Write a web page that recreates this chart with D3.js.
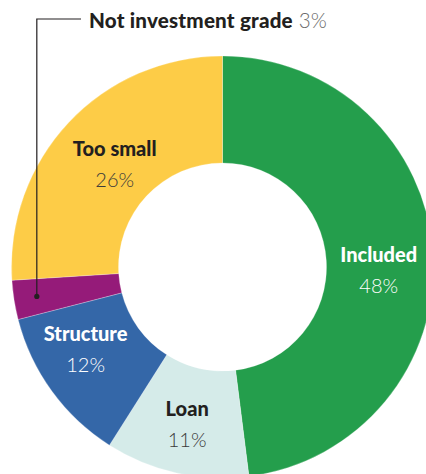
<!DOCTYPE html>
<html>
<head>
<meta charset="utf-8">
<script src="https://cdn.jsdelivr.net/npm/d3@7"></script>
<style>
  html, body { margin: 0; padding: 0; background: #ffffff; }
  svg { display: block; }
  text { font-family: "Lato", "Open Sans", sans-serif; }
</style>
</head>
<body>
<div id="chart"></div>
<script>
// Share of the portfolio by screening outcome (percent)
const categories = ["Included", "Loan", "Structure", "Not investment grade", "Too small"];
const shares = [48, 11, 12, 3, 26];
const shareLabels = ["48%", "11%", "12%", "3%", "26%"];

const sliceColors = ["#249e4c", "#d5ebe9", "#3467a8", "#951b79", "#fdcc47"];
const nameColors = ["#ffffff", "#231f20", "#ffffff", "#231f20", "#231f20"];
const pctColors = ["#ffffff", "#3a3a3a", "#ffffff", "#6b6b6b", "#3a3a3a"];

// Small nudges of each in-slice label away from the slice centroid
const labelNudge = [[-1, 5], [-1, -4.5], [-9.5, -18.5], null, [7, -3]];

const width = 426, height = 474;
const cx = 222.5, cy = 267;
const outerR = 211, innerR = 104;
const nameSize = 20, pctSize = 20;

const svg = d3.select("#chart").append("svg")
  .attr("width", width).attr("height", height);

const g = svg.append("g").attr("transform", `translate(${cx},${cy})`);

const data = categories.map((c, i) => ({ name: c, value: shares[i], label: shareLabels[i], i }));

const pie = d3.pie().value(d => d.value).sort(null);
const arcs = pie(data);

const arc = d3.arc().innerRadius(innerR).outerRadius(outerR);
const midArc = d3.arc().innerRadius((innerR + outerR) / 2).outerRadius((innerR + outerR) / 2);

g.selectAll("path.slice")
  .data(arcs)
  .join("path")
  .attr("class", "slice")
  .attr("d", arc)
  .attr("fill", d => sliceColors[d.data.i])
  .attr("stroke", "#ffffff")
  .attr("stroke-opacity", 0.5)
  .attr("stroke-width", 0.5);

// In-slice labels: bold name with the share beneath it
const inside = arcs.filter(d => labelNudge[d.data.i]);
const lbl = g.selectAll("g.lbl")
  .data(inside)
  .join("g")
  .attr("class", "lbl")
  .attr("transform", d => {
    const [x, y] = midArc.centroid(d);
    const [dx, dy] = labelNudge[d.data.i];
    return `translate(${x + dx},${y + dy})`;
  });

lbl.append("text")
  .attr("text-anchor", "middle")
  .attr("font-size", nameSize)
  .attr("font-weight", 900)
  .attr("fill", d => nameColors[d.data.i])
  .text(d => d.data.name);

lbl.append("text")
  .attr("text-anchor", "middle")
  .attr("y", 31)
  .attr("font-size", pctSize)
  .attr("font-weight", 300)
  .attr("fill", d => pctColors[d.data.i])
  .text(d => d.data.label);

// Callout for the thin slice
const thin = arcs.find(d => d.data.name === "Not investment grade");
const dotArc = d3.arc().innerRadius(188).outerRadius(188);
const [px, py] = dotArc.centroid(thin);
const elbowY = 19 - cy;
const lineEndX = 81 - cx;

g.append("path")
  .attr("d", `M${px},${py}V${elbowY}H${lineEndX}`)
  .attr("fill", "none")
  .attr("stroke", "#231f20")
  .attr("stroke-width", 1.2);

g.append("circle")
  .attr("cx", px).attr("cy", py).attr("r", 2.6)
  .attr("fill", "#231f20");

const callout = g.append("text")
  .attr("x", 89 - cx)
  .attr("y", 28 - cy)
  .attr("font-size", 20.6)
  .attr("letter-spacing", 0.2);
callout.append("tspan")
  .attr("font-weight", 900)
  .attr("fill", nameColors[thin.data.i])
  .text(thin.data.name);
callout.append("tspan")
  .attr("font-weight", 300)
  .attr("fill", pctColors[thin.data.i])
  .text(" " + thin.data.label);
</script>
</body>
</html>
